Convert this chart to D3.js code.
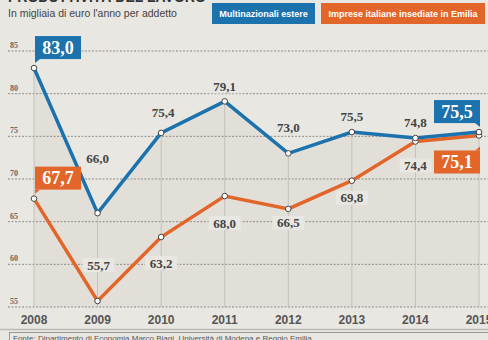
<!DOCTYPE html>
<html>
<head>
<meta charset="utf-8">
<script src="https://cdn.jsdelivr.net/npm/d3@7"></script>
<style>
  body { margin: 0; background: #e9e7e2; }
  svg { display: block; }
</style>
</head>
<body>
<div id="chart"></div>
<script>
// data
const years = [2008, 2009, 2010, 2011, 2012, 2013, 2014, 2015];
const multinazionali = [83.0, 66.0, 75.4, 79.1, 73.0, 75.5, 74.8, 75.5];
const imprese = [67.7, 55.7, 63.2, 68.0, 66.5, 69.8, 74.4, 75.1];
const yTicks = [55, 60, 65, 70, 75, 80, 85];
const seriesNames = ["Multinazionali estere", "Imprese italiane insediate in Emilia"];

// label placement (offsets from the point), kept apart from the data
const blueOffsets = [null, [0, -55], [2, -20], [0, -15], [0, -26], [0, -16], [0, -16], null];
const orangeOffsets = [null, [1, -36], [0, 26], [0, 27], [0, 14], [0, 17], [0, 24], null];

const W = 488, H = 340;
const blue = "#1b72ad", orange = "#e2652a";
const bg = "#e9e7e2";

const svg = d3.select("#chart").append("svg")
    .attr("width", W)
    .attr("height", H);

svg.append("rect").attr("width", W).attr("height", H).attr("fill", bg);

const x = d3.scaleLinear().domain([2008, 2015]).range([34, 479]);
const y = d3.scaleLinear().domain([55, 85]).range([307, 51]);

const fmt = v => v.toFixed(1).replace(".", ",");

// title (cut at the top in the original)
svg.append("text")
    .attr("x", 8).attr("y", 1.5)
    .attr("font-family", "Liberation Sans Narrow, Liberation Sans, sans-serif")
    .attr("font-weight", "bold")
    .attr("font-size", 14)
    .attr("fill", "#333")
    .text("PRODUTTIVITÀ DEL LAVORO");

svg.append("text")
    .attr("x", 8).attr("y", 17)
    .attr("font-family", "Liberation Sans Narrow, Liberation Sans, sans-serif")
    .attr("font-size", 10.5)
    .attr("fill", "#444")
    .text("In migliaia di euro l'anno per addetto");

// legend boxes
const legend = [
    { name: seriesNames[0], color: blue, x0: 212, x1: 315 },
    { name: seriesNames[1], color: orange, x0: 321, x1: 485 }
];
legend.forEach(l => {
    svg.append("rect")
        .attr("x", l.x0).attr("y", 3)
        .attr("width", l.x1 - l.x0).attr("height", 21)
        .attr("fill", l.color);
    svg.append("text")
        .attr("x", (l.x0 + l.x1) / 2).attr("y", 17)
        .attr("text-anchor", "middle")
        .attr("font-family", "Liberation Sans Narrow, Liberation Sans, sans-serif")
        .attr("font-weight", "bold")
        .attr("font-size", 9)
        .attr("fill", "#fff")
        .text(l.name);
});

// shaded area under the upper line
const area = d3.area()
    .x((d, i) => x(years[i]))
    .y0(y(55))
    .y1(d => y(d));
svg.append("path")
    .datum(multinazionali)
    .attr("d", area)
    .attr("fill", "#e2dfd9");

// horizontal gridlines
svg.append("g")
    .selectAll("line")
    .data(yTicks)
    .join("line")
    .attr("x1", 8).attr("x2", W)
    .attr("y1", d => y(d)).attr("y2", d => y(d))
    .attr("stroke", "#8f8d89")
    .attr("stroke-width", 1)
    .attr("stroke-dasharray", "2,1.5");

svg.append("g")
    .selectAll("text")
    .data(yTicks)
    .join("text")
    .attr("x", 10).attr("y", d => y(d) - 3)
    .attr("font-family", "Liberation Serif, serif")
    .attr("font-weight", "bold")
    .attr("font-size", 8)
    .attr("fill", "#666")
    .text(d => d);

// vertical drop lines
svg.append("g")
    .selectAll("line")
    .data(years)
    .join("line")
    .attr("x1", d => x(d)).attr("x2", d => x(d))
    .attr("y1", (d, i) => y(Math.max(multinazionali[i], imprese[i])))
    .attr("y2", y(55))
    .attr("stroke", "#c4c1bb")
    .attr("stroke-width", 1);

// x axis labels
svg.append("g")
    .selectAll("text")
    .data(years)
    .join("text")
    .attr("x", d => x(d)).attr("y", 324)
    .attr("text-anchor", "middle")
    .attr("font-family", "Liberation Sans Narrow, Liberation Sans, sans-serif")
    .attr("font-weight", "bold")
    .attr("font-size", 12)
    .attr("fill", "#555")
    .text(d => d);

// bottom rule and source box
svg.append("line")
    .attr("x1", 0).attr("x2", W).attr("y1", 329.5).attr("y2", 329.5)
    .attr("stroke", "#bdbab4").attr("stroke-width", 1.5);
svg.append("rect")
    .attr("x", 9.5).attr("y", 332.5).attr("width", 480).attr("height", 20)
    .attr("fill", "none").attr("stroke", "#999").attr("stroke-width", 1);
svg.append("text")
    .attr("x", 13).attr("y", 341)
    .attr("font-family", "Liberation Sans Narrow, Liberation Sans, sans-serif")
    .attr("font-size", 8)
    .attr("fill", "#555")
    .text("Fonte: Dipartimento di Economia Marco Biagi, Università di Modena e Reggio Emilia");

// lines
const line = d3.line()
    .x((d, i) => x(years[i]))
    .y(d => y(d));

[[imprese, orange], [multinazionali, blue]].forEach(([data, color]) => {
    svg.append("path")
        .datum(data)
        .attr("d", line)
        .attr("fill", "none")
        .attr("stroke", color)
        .attr("stroke-width", 3.5)
        .attr("stroke-linejoin", "miter");
});

[imprese, multinazionali].forEach(data => {
    svg.append("g")
        .selectAll("circle")
        .data(data)
        .join("circle")
        .attr("cx", (d, i) => x(years[i]))
        .attr("cy", d => y(d))
        .attr("r", 2.8)
        .attr("fill", "#fff")
        .attr("stroke", "#444")
        .attr("stroke-width", 1);
});

// plain value labels with background to break the gridlines
function plainLabels(data, offsets) {
    data.forEach((v, i) => {
        const off = offsets[i];
        if (!off) return;
        const cx = x(years[i]) + off[0];
        const cy = y(v) + off[1];
        svg.append("rect")
            .attr("x", cx - 16).attr("y", cy - 7)
            .attr("width", 32).attr("height", 14)
            .attr("fill", bg);
        svg.append("text")
            .attr("x", cx).attr("y", cy + 4.5)
            .attr("text-anchor", "middle")
            .attr("font-family", "Liberation Serif, serif")
            .attr("font-weight", "bold")
            .attr("font-size", 13)
            .attr("fill", "#444")
            .text(fmt(v));
    });
}
plainLabels(multinazionali, blueOffsets);
plainLabels(imprese, orangeOffsets);

// boxed value labels (first and last year)
function boxLabel(v, i, color, side, below) {
    const px = x(years[i]), py = y(v);
    const w = 46, h = 23;
    const bx = side === "left" ? px + 1 : px - w + 1;
    const by = below ? py + 15 : py - 9 - h;
    svg.append("rect")
        .attr("x", bx).attr("y", by)
        .attr("width", w).attr("height", h)
        .attr("fill", color);
    // small pointer towards the point
    const tipX = side === "left" ? bx : bx + w;
    const baseY = below ? by : by + h;
    const dir = below ? -1 : 1;
    const inner = side === "left" ? tipX + 5 : tipX - 5;
    svg.append("path")
        .attr("d", `M${tipX},${baseY} L${tipX},${baseY + dir * 4} L${inner},${baseY} Z`)
        .attr("fill", color);
    svg.append("text")
        .attr("x", bx + w / 2).attr("y", by + h / 2 + 6)
        .attr("text-anchor", "middle")
        .attr("font-family", "Liberation Serif, serif")
        .attr("font-weight", "bold")
        .attr("font-size", 18)
        .attr("fill", "#fff")
        .text(fmt(v));
}
const last = years.length - 1;
boxLabel(multinazionali[0], 0, blue, "left", false);
boxLabel(imprese[0], 0, orange, "left", false);
boxLabel(multinazionali[last], last, blue, "right", false);
boxLabel(imprese[last], last, orange, "right", true);
</script>
</body>
</html>
